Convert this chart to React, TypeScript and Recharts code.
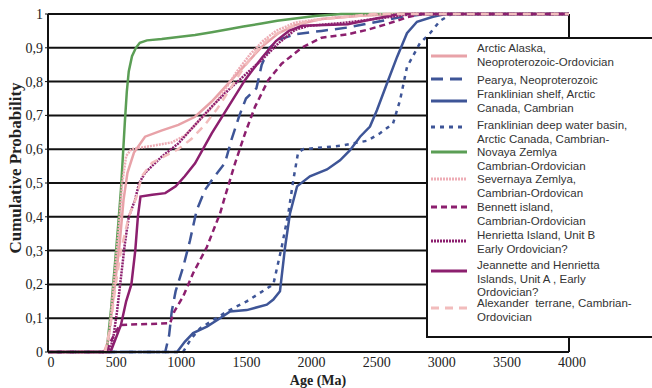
import { CartesianGrid, Label, Line, LineChart, ReferenceLine, XAxis, YAxis } from 'recharts'

type Pt = [number, number]

// age (Ma), cumulative probability
const ARCTIC_ALASKA: Pt[] = [
  [0, 0], [430, 0], [460, 0.03], [490, 0.12], [520, 0.22], [550, 0.32], [580, 0.45], [610, 0.53],
  [660, 0.59], [745, 0.637], [870, 0.655], [1001, 0.672], [1129, 0.696], [1257, 0.741], [1385, 0.795],
  [1513, 0.849], [1641, 0.903], [1768, 0.943], [1896, 0.967], [2100, 0.985], [2400, 0.995], [2700, 1], [4000, 1],
]
const PEARYA: Pt[] = [
  [0, 0], [900, 0], [930, 0.05], [950, 0.12], [980, 0.18], [1037, 0.25], [1090, 0.33], [1142, 0.42],
  [1206, 0.48], [1280, 0.52], [1359, 0.56], [1410, 0.63], [1470, 0.7], [1520, 0.75], [1600, 0.78],
  [1641, 0.85], [1700, 0.9], [1780, 0.925], [1900, 0.94], [2100, 0.95], [2300, 0.96], [2500, 0.975],
  [2700, 0.99], [2900, 1], [4000, 1],
]
const FRANKLINIAN_SHELF: Pt[] = [
  [0, 0], [991, 0], [1050, 0.03], [1114, 0.056], [1220, 0.075], [1321, 0.1], [1398, 0.12], [1526, 0.124],
  [1680, 0.14], [1730, 0.155], [1781, 0.18], [1820, 0.31], [1858, 0.41], [1912, 0.49], [2011, 0.52],
  [2142, 0.54], [2242, 0.567], [2319, 0.597], [2396, 0.637], [2472, 0.667], [2526, 0.716], [2603, 0.795],
  [2680, 0.873], [2756, 0.943], [2833, 0.977], [2956, 0.992], [3050, 1], [4000, 1],
]
const FRANKLINIAN_DEEP: Pt[] = [
  [0, 0], [1037, 0], [1100, 0.04], [1167, 0.07], [1374, 0.12], [1526, 0.15], [1730, 0.2], [1794, 0.31],
  [1845, 0.41], [1884, 0.51], [1920, 0.59], [1958, 0.6], [2242, 0.61], [2450, 0.625], [2549, 0.647],
  [2649, 0.676], [2703, 0.745], [2756, 0.843], [2856, 0.914], [2933, 0.943], [3010, 0.98], [3100, 1], [4000, 1],
]
const NOVAYA_ZEMLYA: Pt[] = [
  [0, 0], [450, 0], [485, 0.13], [514, 0.26], [540, 0.38], [560, 0.48], [575, 0.58], [590, 0.68],
  [605, 0.77], [620, 0.83], [645, 0.875], [675, 0.9], [705, 0.915], [760, 0.922], [873, 0.926],
  [1000, 0.932], [1129, 0.938], [1257, 0.946], [1385, 0.955], [1500, 0.963], [1640, 0.972],
  [1760, 0.98], [1896, 0.987], [2050, 0.994], [2250, 1], [4000, 1],
]
const SEVERNAYA_ZEMLYA: Pt[] = [
  [0, 0], [440, 0], [470, 0.05], [500, 0.18], [540, 0.35], [570, 0.5], [600, 0.58], [640, 0.6],
  [800, 0.61], [950, 0.62], [1050, 0.64], [1150, 0.68], [1250, 0.72], [1350, 0.77], [1450, 0.83],
  [1550, 0.88], [1650, 0.92], [1750, 0.95], [1900, 0.975], [2200, 0.99], [2600, 1], [4000, 1],
]
const BENNETT: Pt[] = [
  [0, 0], [450, 0], [480, 0.03], [520, 0.06], [553, 0.08], [700, 0.082], [937, 0.085], [970, 0.12],
  [1037, 0.164], [1114, 0.233], [1219, 0.31], [1321, 0.41], [1359, 0.46], [1436, 0.558], [1513, 0.647],
  [1590, 0.726], [1692, 0.805], [1794, 0.853], [1947, 0.9], [2100, 0.93], [2300, 0.94], [2449, 0.953],
  [2600, 0.97], [2756, 0.99], [2860, 1], [4000, 1],
]
const HENRIETTA_B: Pt[] = [
  [0, 0], [470, 0], [500, 0.04], [530, 0.12], [560, 0.22], [590, 0.32], [620, 0.4], [668, 0.45],
  [700, 0.5], [745, 0.53], [873, 0.578], [1001, 0.617], [1129, 0.672], [1257, 0.726], [1385, 0.775],
  [1513, 0.82], [1641, 0.864], [1768, 0.913], [1896, 0.953], [2000, 0.965], [2300, 0.975], [2600, 0.99],
  [2800, 1], [4000, 1],
]
const JEANNETTE_HENRIETTA_A: Pt[] = [
  [0, 0], [480, 0], [500, 0.02], [560, 0.08], [600, 0.15], [640, 0.2], [670, 0.3], [690, 0.4],
  [710, 0.46], [800, 0.465], [900, 0.47], [980, 0.49], [1050, 0.52], [1129, 0.558], [1257, 0.647],
  [1385, 0.726], [1513, 0.805], [1641, 0.87], [1750, 0.92], [1850, 0.95], [1950, 0.965], [2300, 0.97],
  [2500, 0.985], [2700, 1], [4000, 1],
]
const ALEXANDER: Pt[] = [
  [0, 0], [440, 0], [480, 0.08], [520, 0.2], [560, 0.3], [620, 0.4], [680, 0.46], [720, 0.52],
  [800, 0.56], [900, 0.58], [1000, 0.6], [1100, 0.63], [1200, 0.67], [1300, 0.72], [1400, 0.78],
  [1500, 0.84], [1600, 0.89], [1700, 0.93], [1850, 0.96], [2000, 0.98], [2500, 1], [4000, 1],
]

const X_TICKS = [0, 500, 1000, 1500, 2000, 2500, 3000, 3500, 4000]
const Y_TICKS = [0, 0.1, 0.2, 0.3, 0.4, 0.5, 0.6, 0.7, 0.8, 0.9, 1]

const PINK = '#e8a2a8'
const BLUE = '#3e5597'
const PURPLE = '#8c1f6e'
const GREEN = '#5b9e55'

const SERIES = [
  { name: ['Arctic Alaska,', 'Neoproterozoic-Ordovician'], data: ARCTIC_ALASKA, color: PINK, dash: undefined, ly: 56, ty: 48 },
  { name: ['Pearya, Neoproterozoic'], data: PEARYA, color: BLUE, dash: '12 7', ly: 79, ty: 80 },
  { name: ['Franklinian shelf, Arctic', 'Canada, Cambrian'], data: FRANKLINIAN_SHELF, color: BLUE, dash: undefined, ly: 101, ty: 94 },
  { name: ['Franklinian deep water basin,', 'Arctic Canada, Cambrian-'], data: FRANKLINIAN_DEEP, color: BLUE, dash: '4 5', ly: 127, ty: 125 },
  { name: ['Novaya Zemlya', 'Cambrian-Ordovician'], data: NOVAYA_ZEMLYA, color: GREEN, dash: undefined, ly: 152, ty: 152 },
  { name: ['Severnaya Zemlya,', 'Cambrian-Ordovican'], data: SEVERNAYA_ZEMLYA, color: '#eeadb6', dash: '2 1', ly: 179, ty: 179 },
  { name: ['Bennett island,', 'Cambrian-Ordovician'], data: BENNETT, color: PURPLE, dash: '6 4', ly: 207, ty: 207 },
  { name: ['Henrietta Island, Unit B', 'Early Ordovician?'], data: HENRIETTA_B, color: PURPLE, dash: '2 1', ly: 241, ty: 235 },
  { name: ['Jeannette and Henrietta', 'Islands, Unit A , Early', 'Ordovician?'], data: JEANNETTE_HENRIETTA_A, color: PURPLE, dash: undefined, ly: 271, ty: 265 },
  { name: ['Alexander  terrane, Cambrian-', 'Ordovician'], data: ALEXANDER, color: '#f2bcbc', dash: '8 6', ly: 308, ty: 303 },
]

const SERIF = '"Liberation Serif", "Times New Roman", serif'
const SANS = '"Liberation Sans", Arial, sans-serif'

const toPoints = (d: Pt[]) => d.map(([age, p]) => ({ age, p }))
const fmtY = (v: number) => (v === 0 ? '0' : v === 1 ? '1' : v.toFixed(1).replace('.', ','))

function LegendBox() {
  return (
    <svg width={240} height={302} style={{ position: 'absolute', left: 426, top: 37 }}>
      <rect x={1} y={1} width={260} height={299} fill="#fff" stroke="#111" strokeWidth={2} />
      {SERIES.map((s, i) => (
        <g key={i}>
          <line x1={5} x2={41} y1={s.ly - 37} y2={s.ly - 37} stroke={s.color} strokeWidth={3} strokeDasharray={s.dash} />
          {s.name.map((t, j) => (
            <text key={j} x={51} y={s.ty - 37 + j * 13.5} dy="0.35em" fontSize={11.5} fontFamily={SANS} fill="#333" style={{ whiteSpace: 'pre' }}>
              {t}
            </text>
          ))}
        </g>
      ))}
    </svg>
  )
}

export default function App() {
  return (
    <div style={{ position: 'absolute', left: 0, top: 0, width: 652, height: 388, overflow: 'hidden', background: '#fff' }}>
      <LineChart width={652} height={388} margin={{ top: 14, right: 83, left: 0, bottom: 0 }}>
        <CartesianGrid vertical={false} stroke="#111" strokeWidth={2} horizontalValues={Y_TICKS} />
        <XAxis
          type="number"
          dataKey="age"
          domain={[0, 4000]}
          ticks={X_TICKS}
          height={36}
          axisLine={{ stroke: '#111', strokeWidth: 2 }}
          tickLine={false}
          tickSize={4}
          tickMargin={1}
          tick={{ fontSize: 14, fontFamily: SERIF, fill: '#222', dx: 3 }}
          interval={0}
        >
          <Label
            content={() => (
              <text x={318} y={380} dy="0.35em" textAnchor="middle" fontSize={14} fontWeight="bold" fontFamily={SERIF} fill="#222">
                Age (Ma)
              </text>
            )}
          />
        </XAxis>
        <YAxis
          type="number"
          domain={[0, 1]}
          ticks={Y_TICKS}
          width={48}
          axisLine={{ stroke: '#111', strokeWidth: 2 }}
          tickLine={{ stroke: '#111' }}
          tickSize={3}
          tickFormatter={fmtY}
          tick={{ fontSize: 14, fontFamily: SERIF, fill: '#222' }}
          interval={0}
        >
          <Label
            content={() => (
              <text
                x={15}
                y={168}
                dy="0.35em"
                textAnchor="middle"
                transform="rotate(-90 15 168)"
                fontSize={17}
                fontWeight="bold"
                fontFamily={SERIF}
                fill="#222"
              >
                Cumulative Probability
              </text>
            )}
          />
        </YAxis>
        <ReferenceLine x={4000} stroke="#111" strokeWidth={2} />
        {SERIES.map((s, i) => (
          <Line
            key={i}
            data={toPoints(s.data)}
            dataKey="p"
            type="linear"
            stroke={s.color}
            strokeWidth={2.5}
            strokeDasharray={s.dash}
            dot={false}
            activeDot={false}
            isAnimationActive={false}
          />
        ))}
      </LineChart>
      <LegendBox />
    </div>
  )
}
